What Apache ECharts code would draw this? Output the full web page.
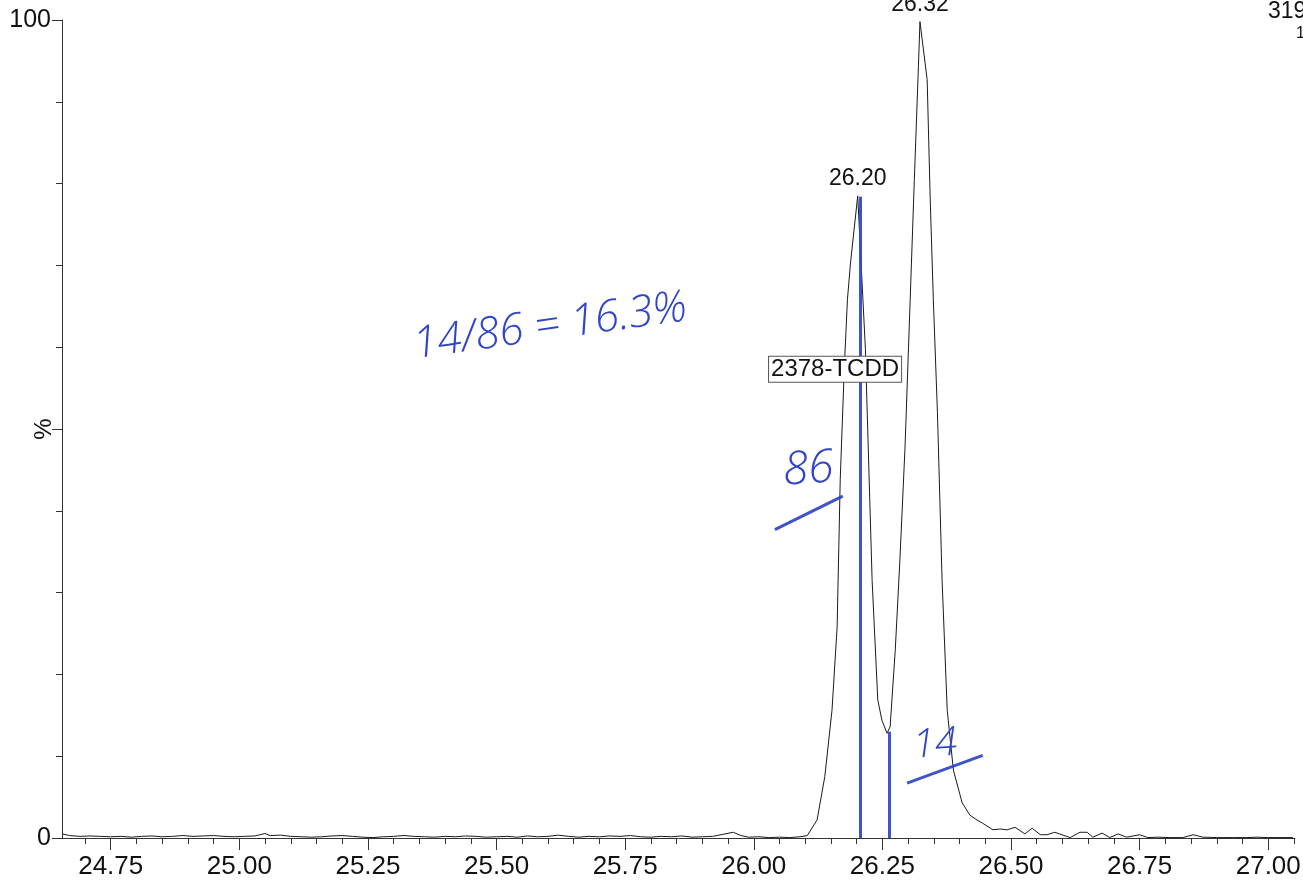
<!DOCTYPE html>
<html>
<head>
<meta charset="utf-8">
<script src="https://cdn.jsdelivr.net/npm/echarts@6/dist/echarts.min.js"></script>
<style>
html,body{margin:0;padding:0;background:#fff;}
#chart{width:1303px;height:884px;}
</style>
</head>
<body>
<div id="chart"></div>
<script>
// ---- data (retention time in min, intensity in %) ----
const traceTime = [
  24.656,24.67,24.69,24.71,24.73,24.75,24.77,24.79,24.81,24.83,24.85,24.87,24.89,24.91,24.93,24.95,24.97,24.99,
  25.01,25.03,25.05,25.06,25.08,25.10,25.12,25.14,25.16,25.18,25.20,25.22,25.24,25.26,25.28,25.30,25.32,25.34,
  25.36,25.38,25.40,25.42,25.44,25.46,25.48,25.50,25.52,25.54,25.56,25.58,25.60,25.62,25.64,25.66,25.68,25.70,
  25.72,25.74,25.76,25.78,25.80,25.82,25.84,25.86,25.88,25.90,25.92,25.94,25.96,25.975,25.99,26.01,26.03,26.05,
  26.07,26.09,26.104,26.123,26.138,26.152,26.162,26.168,26.176,26.182,26.188,26.202,26.217,26.222,26.230,26.241,
  26.249,26.259,26.265,26.275,26.284,26.294,26.304,26.312,26.320,26.323,26.337,26.343,26.349,26.357,26.366,26.376,
  26.388,26.405,26.420,26.434,26.445,26.465,26.479,26.492,26.508,26.527,26.541,26.557,26.570,26.585,26.615,26.634,
  26.648,26.659,26.677,26.692,26.708,26.725,26.750,26.766,26.784,26.809,26.834,26.854,26.873,26.900,26.932,26.959,
  26.978,26.998,27.023,27.048
];
const traceValue = [
  0.5,0.3,0.2,0.25,0.2,0.15,0.2,0.1,0.2,0.25,0.15,0.2,0.3,0.2,0.25,0.3,0.2,0.15,
  0.2,0.25,0.55,0.3,0.35,0.2,0.15,0.1,0.15,0.25,0.3,0.2,0.1,0.05,0.15,0.2,0.3,0.2,
  0.15,0.1,0.2,0.15,0.25,0.2,0.1,0.15,0.2,0.1,0.25,0.15,0.2,0.35,0.2,0.1,0.2,0.15,
  0.25,0.2,0.3,0.15,0.1,0.2,0.15,0.25,0.1,0.15,0.2,0.45,0.7,0.3,0.1,0.15,0.05,0.1,
  0.05,0.15,0.3,2.2,7.5,15.6,25.8,43.8,57.6,65.8,70.3,78.5,59.7,48.7,31.5,16.9,
  14.4,12.8,13.6,23.0,34.0,47.8,65.8,80.4,94.3,99.8,92.7,78.0,65.8,52.0,31.5,15.6,
  8.3,4.3,2.8,2.2,1.8,1.0,1.1,1.0,1.3,0.5,1.2,0.4,0.4,0.7,0.05,0.7,
  0.7,0.1,0.6,0.05,0.5,0.1,0.4,0.05,0.1,0.05,0.05,0.4,0.1,0.05,0.05,0.05,
  0.1,0.05,0.05,0.05
];
const peakTimes  = [26.202, 26.323];
const peakValues = [78.5, 99.8];
const peakLabels = ['26.20', '26.32'];
const majorTicks = [24.75,25.00,25.25,25.50,25.75,26.00,26.25,26.50,26.75,27.00];
const minorTicks = [24.70,24.75,24.80,24.85,24.90,24.95,25.00,25.05,25.10,25.15,25.20,25.25,25.30,25.35,25.40,25.45,
  25.50,25.55,25.60,25.65,25.70,25.75,25.80,25.85,25.90,25.95,26.00,26.05,26.10,26.15,26.20,26.25,26.30,26.35,
  26.40,26.45,26.50,26.55,26.60,26.65,26.70,26.75,26.80,26.85,26.90,26.95,27.00,27.05];
const yLabelValues = [0, 100];
const compoundName = '2378-TCDD';
const compoundAt = [26.158, 57.3];
// hand-written annotations (blue ink), positioned in data coordinates
const inkLines = [
  [[26.207, 78.4], [26.207, 0]],
  [[26.263, 13.0], [26.263, 0]],
  [[26.041, 37.7], [26.173, 41.8]],
  [[26.298, 6.7], [26.445, 10.1]]
];
const inkTexts = [
  {text: '86', at: [26.106, 45.0], size: 46, rotate: 4},
  {text: '14', at: [26.352, 11.4], size: 40, rotate: 4},
  {text: '14/86 = 16.3%', at: [25.604, 62.5], size: 44, rotate: 8}
];
const headerText = ['319.8965', '1.00e3'];

const FONT = '"Liberation Sans", Arial, sans-serif';
const INK = '#2f44c6';
const AX = '#333';
const xMin = 24.6553, xMax = 27.052;

const chart = echarts.init(document.getElementById('chart'), null, {renderer: 'canvas'});

const trace = traceTime.map((t, i) => [t, traceValue[i]]);

chart.setOption({
  animation: false,
  backgroundColor: '#fff',
  textStyle: {fontFamily: FONT},
  grid: {left: 62, right: 8, top: 20, bottom: 46, containLabel: false, outerBoundsMode: 'none'},
  xAxis: [
    {
      type: 'value', min: xMin, max: xMax, position: 'bottom', offset: 0,
      axisLine: {show: true, onZero: false, lineStyle: {color: AX, width: 1}},
      axisTick: {show: true, length: 12, customValues: majorTicks, lineStyle: {color: AX, width: 1}},
      axisLabel: {show: true, customValues: majorTicks, formatter: v => v.toFixed(2),
        fontSize: 26, color: '#111', fontFamily: FONT, margin: 16},
      splitLine: {show: false}
    },
    {
      type: 'value', min: xMin, max: xMax, position: 'bottom', offset: 0,
      axisLine: {show: false, onZero: false},
      axisTick: {show: true, length: 6, customValues: minorTicks, lineStyle: {color: AX, width: 1}},
      axisLabel: {show: false},
      splitLine: {show: false}
    }
  ],
  yAxis: [
    {
      type: 'value', min: 0, max: 100, interval: 50, position: 'left', offset: 0,
      name: '%', nameLocation: 'middle', nameRotate: 90, nameGap: 6, nameMoveOverlap: false,
      nameTextStyle: {fontSize: 24, color: '#111', fontFamily: FONT},
      axisLine: {show: true, onZero: false, lineStyle: {color: AX, width: 1}},
      axisTick: {show: true, length: 10, lineStyle: {color: AX, width: 1}},
      axisLabel: {show: true, fontSize: 25, color: '#111', fontFamily: FONT, margin: 11,
        formatter: v => (yLabelValues.indexOf(v) >= 0 ? String(v) : '')},
      splitLine: {show: false}
    },
    {
      type: 'value', min: 0, max: 100, interval: 10, position: 'left', offset: 0,
      axisLine: {show: false, onZero: false},
      axisTick: {show: true, length: 6, lineStyle: {color: AX, width: 1}},
      axisLabel: {show: false},
      splitLine: {show: false}
    }
  ],
  series: [
    {
      type: 'line', xAxisIndex: 0, yAxisIndex: 0,
      data: trace, showSymbol: false, symbol: 'none', smooth: false,
      lineStyle: {color: '#1b1b1b', width: 1},
      clip: false,
      markPoint: {
        symbol: 'circle', symbolSize: 1, itemStyle: {color: 'rgba(0,0,0,0)'},
        data: peakTimes.map((t, i) => ({
          coord: [t, peakValues[i]],
          label: {show: true, position: 'top', distance: 5, formatter: peakLabels[i],
            fontSize: 23, color: '#111', fontFamily: FONT}
        })).concat([{
          coord: compoundAt,
          label: {show: true, position: 'inside', formatter: compoundName,
            fontSize: 24, color: '#111', fontFamily: FONT,
            backgroundColor: '#fff', borderColor: '#555', borderWidth: 1, padding: [1, 2, 0, 2]}
        }])
      }
    },
    {
      type: 'line', xAxisIndex: 0, yAxisIndex: 0, data: [], symbol: 'none',
      markLine: {
        symbol: ['none', 'none'], silent: true,
        label: {show: false},
        lineStyle: {color: INK, width: 3, type: 'solid', opacity: 0.92},
        data: inkLines.map(l => [{coord: l[0]}, {coord: l[1]}])
      },
      markPoint: {
        symbol: 'circle', symbolSize: 1, itemStyle: {color: 'rgba(0,0,0,0)'},
        data: inkTexts.map(o => ({
          coord: o.at,
          label: {show: true, position: 'inside', formatter: o.text, rotate: o.rotate,
            fontSize: o.size, color: INK, fontStyle: 'italic', fontWeight: 300,
            fontFamily: '"Open Sans", "Noto Sans", sans-serif'}
        }))
      }
    }
  ],
  graphic: [
    {type: 'text', left: 1268, top: 0, silent: true,
      style: {text: headerText[0], fontSize: 23, fill: '#111', fontFamily: FONT}},
    {type: 'text', left: 1296, top: 26, silent: true,
      style: {text: headerText[1], fontSize: 16, fill: '#111', fontFamily: FONT}}
  ]
});
</script>
</body>
</html>
